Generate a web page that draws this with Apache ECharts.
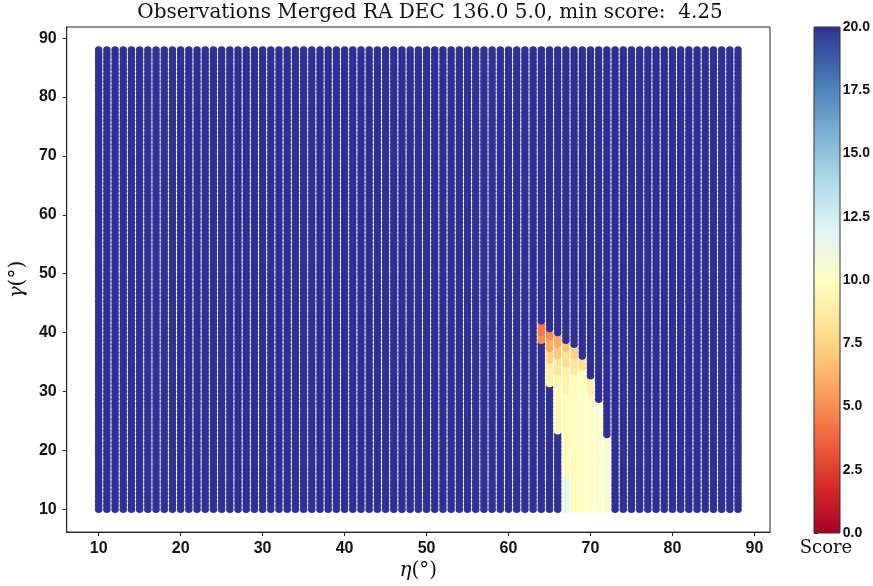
<!DOCTYPE html>
<html>
<head>
<meta charset="utf-8">
<script src="https://cdn.jsdelivr.net/npm/echarts@6/dist/echarts.min.js"></script>
<style>html,body{margin:0;padding:0;background:#fff;}#c{width:873px;height:586px;}</style>
</head>
<body>
<div id="c"></div>
<script>
// ---- data ----
const etaValues = [10,11,12,13,14,15,16,17,18,19,20,21,22,23,24,25,26,27,28,29,30,31,32,33,34,35,36,37,38,39,40,41,42,43,44,45,46,47,48,49,50,51,52,53,54,55,56,57,58,59,60,61,62,63,64,65,66,67,68,69,70,71,72,73,74,75,76,77,78,79,80,81,82,83,84,85,86,87,88];
const gammaValues = [10,10.67,11.33,12,12.67,13.33,14,14.67,15.33,16,16.67,17.33,18,18.67,19.33,20,20.67,21.33,22,22.67,23.33,24,24.67,25.33,26,26.67,27.33,28,28.67,29.33,30,30.67,31.33,32,32.67,33.33,34,34.67,35.33,36,36.67,37.33,38,38.67,39.33,40,40.67,41.33,42,42.67,43.33,44,44.67,45.33,46,46.67,47.33,48,48.67,49.33,50,50.67,51.33,52,52.67,53.33,54,54.67,55.33,56,56.67,57.33,58,58.67,59.33,60,60.67,61.33,62,62.67,63.33,64,64.67,65.33,66,66.67,67.33,68,68.67,69.33,70,70.67,71.33,72,72.67,73.33,74,74.67,75.33,76,76.67,77.33,78,78.67,79.33,80,80.67,81.33,82,82.67,83.33,84,84.67,85.33,86,86.67,87.33,88];
const scoreCap = 20;
// low-score region, by column: eta, gamma top, gamma bottom, score
const segEta    = [64,   64,   65,   65,   65,   65,   66,   66,   66,   66,   67,   67,   67,   67,   67,   68,   68,   68,   69,   69,   70,   70,   71,   72];
const segTop    = [41.4, 40.0, 40.4, 39.0, 37.0, 35.0, 39.4, 38.0, 36.0, 33.0, 38.4, 37.0, 34.5, 30.0, 16.0, 37.4, 35.5, 33.0, 35.4, 33.5, 32.3, 29.5, 28.6, 22.4];
const segBottom = [40.0, 38.2, 39.0, 37.0, 35.0, 31.2, 38.0, 36.0, 33.0, 23.2, 37.0, 34.5, 30.0, 16.0, 10.0, 35.5, 33.0, 10.0, 33.5, 10.0, 29.5, 10.0, 10.0, 10.0];
const segScore  = [4.25, 5.0,  5.0,  6.0,  7.5,  9.0,  6.0,  7.2,  8.5,  9.5,  6.8,  8.0,  9.2,  9.8,  11.5, 7.5,  8.5,  9.8,  8.2,  10.0, 9.0,  10.2, 10.3, 10.5];
const xTicks = [10,20,30,40,50,60,70,80,90];
const yTicks = [10,20,30,40,50,60,70,80,90];
const cbTicks = [0,2.5,5,7.5,10,12.5,15,17.5,20];
const titleText = 'Observations Merged RA DEC 136.0 5.0, min score:  4.25';
const rdylbu = ['#a50026','#d73027','#f46d43','#fdae61','#fee090','#ffffbf','#e0f3f8','#abd9e9','#74add1','#4575b4','#2e3192'];

// ---- build points ----
function scoreAt(eta, g) {
  for (let i = 0; i < segEta.length; i++) {
    if (segEta[i] === eta && g <= segTop[i] + 1e-6 && g >= segBottom[i] - 1e-6) return segScore[i];
  }
  return scoreCap;
}
const points = [];
etaValues.forEach(e => gammaValues.forEach(g => points.push([e, g, scoreAt(e, g)])));

const chart = echarts.init(document.getElementById('c'), null, {renderer: 'canvas'});
const tickFont = {fontFamily: 'Liberation Sans', fontWeight: 'bold', fontSize: 16, color: '#111'};
const nameStyle = {fontFamily: 'DejaVu Serif', fontSize: 20, color: '#111', rich: {i: {fontFamily: 'DejaVu Serif', fontStyle: 'italic', fontSize: 20, color: '#111'}}};
const G = {left: 63, right: 770, top: 27, bottom: 533};
const CB = {left: 814, right: 840};
chart.setOption({
  animation: false,
  backgroundColor: '#fff',
  grid: [
    {left: G.left, top: G.top, width: G.right - G.left, height: G.bottom - G.top, show: true, borderColor: '#222', borderWidth: 1, backgroundColor: 'transparent'},
    {left: CB.left, top: G.top, width: CB.right - CB.left, height: G.bottom - G.top, show: false}
  ],
  xAxis: [
    {gridIndex: 0, type: 'value', min: 6.1, max: 91.9,
     name: '{i|η}(°)', nameLocation: 'middle', nameGap: 27, nameTextStyle: nameStyle,
     axisLine: {show: true, onZero: false, lineStyle: {color: '#222', width: 1}},
     axisTick: {show: true, inside: false, length: 4, lineStyle: {color: '#222'}, customValues: xTicks},
     axisLabel: Object.assign({margin: 8, customValues: xTicks}, tickFont),
     splitLine: {show: false}},
    {gridIndex: 1, type: 'value', min: 0, max: 1, show: false}
  ],
  yAxis: [
    {gridIndex: 0, type: 'value', min: 6.1, max: 91.9,
     name: '{i|γ}(°)', nameLocation: 'middle', nameGap: 36, nameRotate: 90, nameTextStyle: nameStyle,
     axisLine: {show: true, onZero: false, lineStyle: {color: '#222', width: 1}},
     axisTick: {show: true, inside: false, length: 4, lineStyle: {color: '#222'}, customValues: yTicks},
     axisLabel: Object.assign({margin: 10, customValues: yTicks}, tickFont),
     splitLine: {show: false}},
    {gridIndex: 1, type: 'value', min: 0, max: 20, position: 'right',
     axisLine: {show: false},
     axisTick: {show: true, inside: false, length: 4, lineStyle: {color: '#222'}, customValues: cbTicks},
     axisLabel: {margin: 3, customValues: cbTicks, formatter: v => v.toFixed(1), fontFamily: 'Liberation Sans', fontWeight: 'bold', fontSize: 14, color: '#111'},
     splitLine: {show: false}}
  ],
  visualMap: {show: false, type: 'continuous', min: 0, max: 20, dimension: 2, seriesIndex: 0, inRange: {color: rdylbu}},
  graphic: [
    {type: 'rect', shape: {x: CB.left, y: G.top, width: CB.right - CB.left, height: G.bottom - G.top}, z: 1,
     style: {fill: new echarts.graphic.LinearGradient(0, 1, 0, 0, rdylbu.map((c, i) => ({offset: i / (rdylbu.length - 1), color: c}))), stroke: '#333', lineWidth: 1}},
    {type: 'text', x: 430, y: 13, z: 5,
     style: {text: titleText, font: '20px "DejaVu Serif"', fill: '#111', textAlign: 'center', textVerticalAlign: 'middle'}},
    {type: 'text', x: 826, y: 548, z: 5,
     style: {text: 'Score', font: '18px "DejaVu Serif"', fill: '#111', textAlign: 'center', textVerticalAlign: 'middle'}}
  ],
  series: [{
    type: 'scatter', xAxisIndex: 0, yAxisIndex: 0, data: points,
    symbol: 'circle', symbolSize: 7.5, large: false, silent: true,
    itemStyle: {opacity: 1}
  }]
});
</script>
</body>
</html>
